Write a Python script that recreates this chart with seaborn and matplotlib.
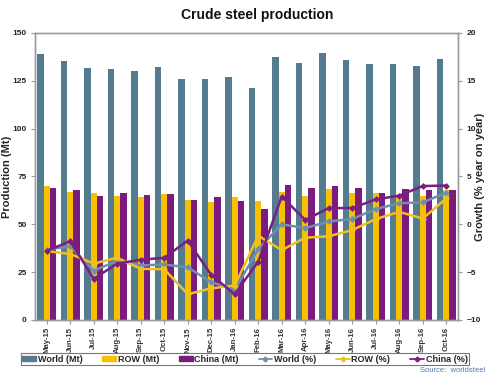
import pandas as pd
import numpy as np
import matplotlib.pyplot as plt
import seaborn as sns
from matplotlib.patches import Patch
from matplotlib.lines import Line2D

# Monthly crude steel production, May-15 .. Oct-16
months = ["May-15", "Jun-15", "Jul-15", "Aug-15", "Sep-15", "Oct-15", "Nov-15", "Dec-15", "Jan-16",
          "Feb-16", "Mar-16", "Apr-16", "May-16", "Jun-16", "Jul-16", "Aug-16", "Sep-16", "Oct-16"]

world_mt = [138.9, 135.4, 131.6, 131.4, 130.1, 132.1, 125.9, 126.0, 126.8,
            121.1, 137.7, 134.5, 139.4, 136.1, 133.6, 134.0, 133.0, 136.4]
row_mt = [69.9, 66.9, 66.6, 64.6, 64.1, 65.9, 62.5, 61.7, 64.1,
          62.4, 66.9, 64.8, 68.7, 66.4, 66.6, 65.0, 64.6, 67.8]
china_mt = [69.0, 68.1, 64.8, 66.6, 65.4, 65.9, 62.9, 64.1, 62.4,
            58.2, 70.4, 68.8, 70.2, 69.0, 66.4, 68.5, 67.8, 68.1]

world_pct = [-2.65, -2.3, -4.86, -3.8, -4.3, -4.2, -4.5, -6.05, -6.85,
             -2.6, 0.0, -0.4, 0.3, 0.55, 1.6, 2.2, 2.3, 3.3]
row_pct = [-2.8, -3.1, -4.1, -3.5, -4.65, -4.7, -7.3, -6.7, -6.4,
           -1.2, -2.7, -1.4, -1.25, -0.6, 0.55, 1.3, 0.6, 2.7]
china_pct = [-2.76, -1.78, -5.7, -4.1, -3.7, -3.5, -1.7, -5.3, -7.3,
             -3.9, 2.9, 0.45, 1.7, 1.7, 2.6, 3.0, 4.0, 4.05]

bar_colors = ["#557b8f", "#f5c100", "#7b1b7e"]
line_colors = ["#6f8fae", "#f0c020", "#7b1e82"]

bars = pd.DataFrame({"month": months * 3,
                     "series": ["World (Mt)"] * 18 + ["ROW (Mt)"] * 18 + ["China (Mt)"] * 18,
                     "value": world_mt + row_mt + china_mt})
lines = pd.DataFrame({"month": months * 3,
                      "series": ["World (%)"] * 18 + ["ROW (%)"] * 18 + ["China (%)"] * 18,
                      "value": world_pct + row_pct + china_pct})

sns.set_theme(style="white")
plt.rcParams["font.family"] = ["Liberation Sans", "DejaVu Sans"]

fig = plt.figure(figsize=(4.9, 3.76), dpi=100)
ax = fig.add_axes([0.0714, 0.149, 0.8633, 0.7633])

sns.barplot(data=bars, x="month", y="value", hue="series", palette=bar_colors,
            width=0.8, saturation=1, ax=ax, legend=False, linewidth=0)
ax.set_ylim(0, 150)
ax.set_yticks(range(0, 151, 25))
ax.set_xlim(-0.5, 17.5)

ax2 = ax.twinx()
sns.lineplot(data=lines, x="month", y="value", hue="series", palette=line_colors,
             sort=False, marker="D", markersize=3.5, markeredgewidth=0, linewidth=1.8,
             ax=ax2, legend=False)
ax2.set_ylim(-10, 20)
ax2.set_yticks(range(-10, 21, 5))
ax2.set_xlim(-0.5, 17.5)

for a in (ax, ax2):
    for s in a.spines.values():
        s.set_color("#9a9a9a")
        s.set_linewidth(1)
    a.tick_params(length=3, width=0.8, color="#9a9a9a", labelsize=6, pad=3)
    for t in a.get_yticklabels():
        t.set_fontweight("bold")

ax.set_xticks(range(len(months)))
ax.set_xticklabels(months, rotation=90, fontsize=5.6, fontweight="bold", color="#333333")
ax.tick_params(axis="x", bottom=True, length=3, pad=2)
ax.tick_params(axis="y", left=True)
ax2.tick_params(axis="y", right=True)

ax.set_xlabel("")
ax.set_ylabel("Production (Mt)", fontsize=8, fontweight="bold")
ax.yaxis.set_label_coords(-0.055, 0.5)
ax2.set_ylabel("Growth (% year on year)", fontsize=8, fontweight="bold")
ax2.yaxis.set_label_coords(1.04, 0.5)

fig.text(0.525, 0.96, "Crude steel production", ha="center", va="center", fontsize=10,
         fontweight="bold", color="#111111")

handles = [Patch(color=c) for c in bar_colors] + \
          [Line2D([0], [0], color=c, marker="D", markersize=2.5, lw=1.3) for c in line_colors]
labels = ["World (Mt)", "ROW (Mt)", "China (Mt)", "World (%)", "ROW (%)", "China (%)"]
leg = fig.legend(handles, labels, loc="center", bbox_to_anchor=(0.5, 0.045), ncol=6,
                 frameon=True, fancybox=False, edgecolor="#555555",
                 prop={"weight": "bold", "size": 6.5}, handlelength=1.5, handleheight=0.5,
                 handletextpad=0.2, columnspacing=2.2, borderpad=0.2)
leg.get_frame().set_linewidth(0.8)

fig.text(0.99, 0.004, "Source:  worldsteel", ha="right", va="bottom", fontsize=5.5,
         color="#5577a0")

fig.savefig("out.png", dpi=100, facecolor="white", edgecolor="#999999")
